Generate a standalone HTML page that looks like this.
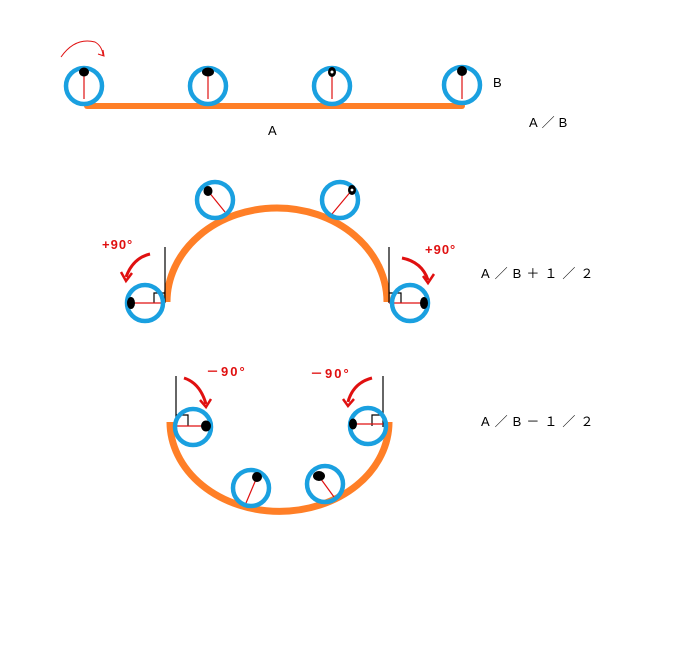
<!DOCTYPE html>
<html><head><meta charset="utf-8"><style>html,body{margin:0;padding:0;background:#fff}svg{display:block}text{font-family:"Liberation Sans","Noto Sans CJK JP",sans-serif}</style></head><body>
<svg width="676" height="661" viewBox="0 0 676 661" xmlns="http://www.w3.org/2000/svg">
<defs>
<g id="w"><circle r="18" fill="none" stroke="#1aa0e0" stroke-width="4.5"/></g>
</defs>
<line x1="87" y1="106" x2="462" y2="106" stroke="#ff7f27" stroke-width="6" stroke-linecap="round"/>
<g stroke="#e01010" stroke-width="1.2">
<line x1="84" y1="73" x2="84" y2="99"/><line x1="208" y1="73" x2="208" y2="99"/><line x1="332" y1="73" x2="332" y2="99"/><line x1="462" y1="72" x2="462" y2="99"/>
</g>
<use href="#w" x="84" y="86"/><use href="#w" x="208" y="86"/><use href="#w" x="332" y="86"/><use href="#w" x="462" y="85"/>
<g fill="#000"><ellipse cx="84" cy="72" rx="5" ry="4.5"/><ellipse cx="208" cy="72" rx="6" ry="4.5"/><ellipse cx="332" cy="72" rx="4" ry="5"/><ellipse cx="462" cy="71" rx="5" ry="5"/></g>
<circle cx="332" cy="72" r="1.5" fill="#fff"/>
<path d="M61,57 Q75,37 95,42 Q102,46 103,55" fill="none" stroke="#e01010" stroke-width="1"/>
<path d="M98,54 L104,56 L103,50" fill="none" stroke="#e01010" stroke-width="1"/>
<text x="493" y="87" font-size="13">B</text>
<text x="268" y="135" font-size="13">A</text>
<text x="529" y="127" font-size="13" letter-spacing="4">A／B</text>
<path d="M167,302 A110,94 0 0 1 387,302" fill="none" stroke="#ff7f27" stroke-width="7"/>
<g stroke="#000" stroke-width="1.2" fill="none">
<line x1="165" y1="247" x2="165" y2="303"/><path d="M154,303 V293 H165"/>
<line x1="389" y1="247" x2="389" y2="303"/><path d="M401,303 V293 H389"/>
</g>
<g stroke="#e01010" stroke-width="1.2">
<line x1="131" y1="303" x2="165" y2="303"/><line x1="389" y1="303" x2="424" y2="303"/>
<line x1="208" y1="191" x2="225" y2="212"/><line x1="352" y1="190" x2="332" y2="214"/>
</g>
<use href="#w" x="145" y="303"/><use href="#w" x="410" y="303"/><use href="#w" x="215" y="200"/><use href="#w" x="340" y="200"/>
<g fill="#000"><ellipse cx="131" cy="303" rx="4" ry="6"/><ellipse cx="424" cy="303" rx="4" ry="6"/><ellipse cx="208" cy="191" rx="4.5" ry="5"/><ellipse cx="352" cy="190" rx="4" ry="5"/></g>
<circle cx="352" cy="190" r="1.4" fill="#fff"/>
<text x="102" y="249" font-size="13" font-weight="bold" fill="#e01010" letter-spacing="1">+90°</text>
<text x="425" y="254" font-size="13" font-weight="bold" fill="#e01010" letter-spacing="1">+90°</text>
<path d="M150,254 Q133,258 126,277" fill="none" stroke="#e01010" stroke-width="3"/>
<path d="M121,272 L126,281 L132,273" fill="none" stroke="#e01010" stroke-width="2.5"/>
<path d="M402,258 Q422,262 428,280" fill="none" stroke="#e01010" stroke-width="3"/>
<path d="M423,276 L428,283 L434,274" fill="none" stroke="#e01010" stroke-width="2.5"/>
<text x="481" y="278" font-size="13" letter-spacing="5">A／B＋１／２</text>
<path d="M170,422 A109,89 0 0 0 389,422" fill="none" stroke="#ff7f27" stroke-width="7"/>
<g stroke="#000" stroke-width="1.2" fill="none">
<line x1="176" y1="376" x2="176" y2="427"/><path d="M176,415 H188 V426"/>
<line x1="383" y1="376" x2="383" y2="427"/><path d="M383,415 H372 V426"/>
</g>
<g stroke="#e01010" stroke-width="1.2">
<line x1="176" y1="426" x2="206" y2="426"/><line x1="353" y1="424" x2="383" y2="424"/>
<line x1="257" y1="477" x2="246" y2="503"/><line x1="318" y1="475" x2="334" y2="497"/>
</g>
<use href="#w" x="193" y="427"/><use href="#w" x="368" y="426"/><use href="#w" x="251" y="488"/><use href="#w" x="325" y="484"/>
<g fill="#000"><ellipse cx="206" cy="426" rx="5" ry="5.5"/><ellipse cx="353" cy="424" rx="4" ry="5.5"/><ellipse cx="257" cy="477" rx="5" ry="5"/><ellipse cx="319" cy="476" rx="6" ry="5"/></g>
<text x="206" y="376" font-size="13" font-weight="bold" fill="#e01010" letter-spacing="2">－90°</text>
<text x="310" y="378" font-size="13" font-weight="bold" fill="#e01010" letter-spacing="2">－90°</text>
<path d="M184,378 Q200,383 206,404" fill="none" stroke="#e01010" stroke-width="3"/>
<path d="M200,400 L206,407 L211,399" fill="none" stroke="#e01010" stroke-width="2.5"/>
<path d="M372,378 Q353,383 348,402" fill="none" stroke="#e01010" stroke-width="3"/>
<path d="M343,399 L348,406 L354,399" fill="none" stroke="#e01010" stroke-width="2.5"/>
<text x="481" y="426" font-size="13" letter-spacing="5">A／B－１／２</text>
</svg>
</body></html>
